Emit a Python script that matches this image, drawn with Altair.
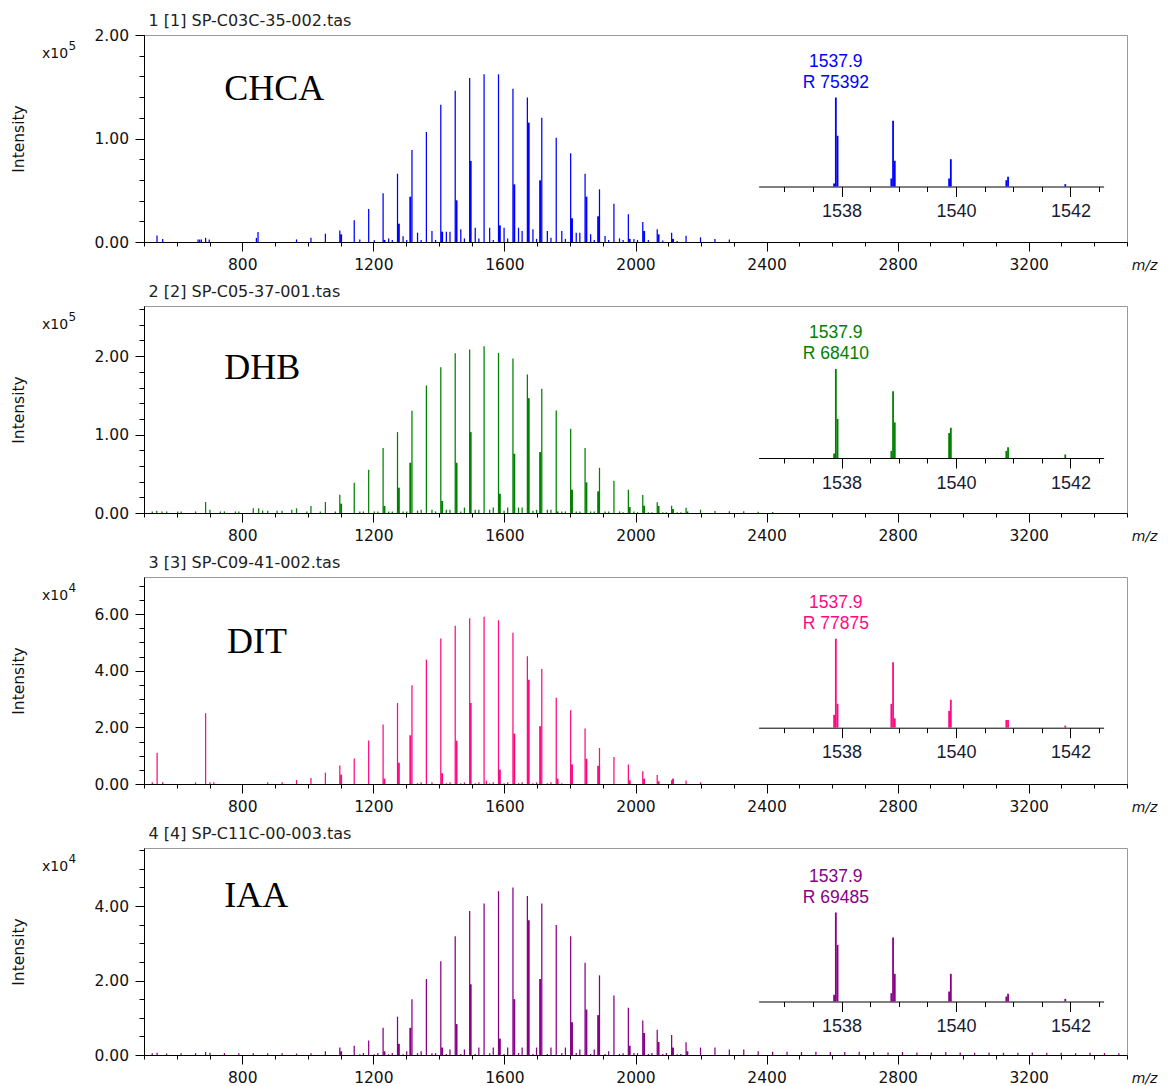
import altair as alt
import pandas as pd

# ---------------- data ----------------
TITLES = ["1 [1] SP-C03C-35-002.tas", "2 [2] SP-C05-37-001.tas",
          "3 [3] SP-C09-41-002.tas", "4 [4] SP-C11C-00-003.tas"]
MATRIX = ["CHCA", "DHB", "DIT", "IAA"]
COLORS = ["#0000ff", "#008000", "#ff0a82", "#880088"]
EXPONENT = ["5", "5", "4", "4"]
YMAX = [2.0, 2.64, 7.31, 5.56]
YTICKS = [
    [0, 0.2, 0.4, 0.6, 0.8, 1.0, 1.2, 1.4, 1.6, 1.8, 2.0],
    [0, 0.2, 0.4, 0.6, 0.8, 1.0, 1.2, 1.4, 1.6, 1.8, 2.0, 2.2, 2.4, 2.6],
    [0, 0.5, 1.0, 1.5, 2.0, 2.5, 3.0, 3.5, 4.0, 4.5, 5.0, 5.5, 6.0, 6.5, 7.0],
    [0, 0.5, 1.0, 1.5, 2.0, 2.5, 3.0, 3.5, 4.0, 4.5, 5.0, 5.5],
]
YMAJOR = [[0, 1, 2], [0, 1, 2], [0, 2, 4, 6], [0, 2, 4]]
XTICKS = [500, 600, 700, 800, 900, 1000, 1100, 1200, 1300, 1400, 1500, 1600, 1700,
          1800, 1900, 2000, 2100, 2200, 2300, 2400, 2500, 2600, 2700, 2800, 2900,
          3000, 3100, 3200, 3300, 3400, 3500]
XMAJOR = [800, 1200, 1600, 2000, 2400, 2800, 3200]
INSET_TICKS = [1537.0, 1537.5, 1538.0, 1538.5, 1539.0, 1539.5, 1540.0, 1540.5,
               1541.0, 1541.5, 1542.0, 1542.5]
INSET_MAJOR = [1538, 1540, 1542]

# label positions (m/z, intensity) of the matrix names
LABEL_MZ = [745, 745, 753, 745]
LABEL_Y = [1.372, 1.703, 4.61, 3.97]

# main polymer series, k = -23 ... 44
SERIES_MZ = [525.2, 569.2, 613.3, 657.3, 701.3, 745.4, 789.4, 833.4, 877.5, 921.5,
             965.5, 1009.5, 1053.6, 1097.6, 1141.6, 1185.7, 1229.7, 1273.7, 1317.8, 1361.8,
             1405.8, 1449.8, 1493.9, 1537.9, 1581.9, 1626.0, 1670.0, 1714.0, 1758.1, 1802.1,
             1846.1, 1890.1, 1934.2, 1978.2, 2022.2, 2066.3, 2110.3, 2154.3, 2198.4, 2242.4,
             2286.4, 2330.4, 2374.5, 2418.5, 2462.5, 2506.6, 2550.6, 2594.6, 2638.7, 2682.7,
             2726.7, 2770.7, 2814.8, 2858.8, 2902.8, 2946.9, 2990.9, 3034.9, 3079.0, 3123.0,
             3167.0, 3211.0, 3255.1, 3299.1, 3343.1, 3387.2, 3431.2, 3475.2]

MAIN_H1 = [0, 0, 0, 0, 0, 0, 0, 0, 0, 0,
           0.025, 0.04, 0.08, 0.11, 0.21, 0.32, 0.47, 0.66, 0.89, 1.063,
           1.327, 1.462, 1.585, 1.62, 1.62, 1.481, 1.395, 1.201, 1.008, 0.857,
           0.66, 0.509, 0.37, 0.267, 0.193, 0.122, 0.09, 0.06, 0.045, 0.03,
           0.025, 0, 0, 0, 0, 0, 0, 0, 0, 0,
           0, 0, 0, 0, 0, 0, 0, 0, 0, 0,
           0, 0, 0, 0, 0, 0, 0, 0]
MAIN_H2 = [0.02, 0.02, 0.02, 0.02, 0.04, 0.02, 0.02, 0.06, 0.03, 0.03,
           0.06, 0.09, 0.14, 0.234, 0.386, 0.552, 0.828, 1.032, 1.304, 1.626,
           1.860, 2.038, 2.085, 2.127, 2.042, 1.970, 1.766, 1.584, 1.308, 1.074,
           0.828, 0.577, 0.412, 0.297, 0.229, 0.136, 0.093, 0.068, 0.042, 0.025,
           0.021, 0.021, 0.015, 0.012, 0, 0, 0, 0, 0, 0,
           0, 0, 0, 0, 0, 0, 0, 0, 0, 0,
           0, 0, 0, 0, 0, 0, 0, 0]
MAIN_H3 = [0.06, 0, 0, 0.06, 0.06, 0, 0, 0, 0.06, 0.06,
           0.14, 0.21, 0.40, 0.65, 0.90, 1.54, 2.10, 2.86, 3.49, 4.39,
           5.14, 5.59, 5.85, 5.91, 5.78, 5.34, 4.51, 4.06, 3.05, 2.60,
           1.96, 1.27, 0.95, 0.69, 0.45, 0.32, 0.13, 0.12, 0.06, 0,
           0, 0, 0, 0, 0, 0, 0, 0, 0, 0,
           0, 0, 0, 0, 0, 0, 0, 0, 0, 0,
           0, 0, 0, 0, 0, 0, 0, 0]
MAIN_H4 = [0.05, 0.04, 0.05, 0.05, 0.06, 0.05, 0.05, 0.05, 0.05, 0.05,
           0.04, 0.045, 0.10, 0.20, 0.25, 0.39, 0.73, 1.03, 1.50, 2.04,
           2.52, 3.19, 3.87, 4.07, 4.40, 4.50, 4.27, 4.07, 3.49, 3.19,
           2.48, 2.14, 1.60, 1.27, 0.93, 0.68, 0.54, 0.34, 0.20, 0.20,
           0.15, 0.15, 0.10, 0.09, 0.09, 0.08, 0.09, 0.08, 0.08, 0.09,
           0.08, 0.07, 0.08, 0.07, 0.07, 0.08, 0.07, 0.06, 0.07, 0.06,
           0.06, 0.07, 0.06, 0.06, 0.05, 0.06, 0.05, 0.05]
MAIN_H = [MAIN_H1, MAIN_H2, MAIN_H3, MAIN_H4]

# satellite peaks next to the main peaks (drawn thicker)
SEC_MZ = [1101.6, 1233.7, 1277.7, 1312.8, 1409.8, 1453.8, 1496.9, 1585.9, 1630.0, 1674.0,
          1709.0, 1762.1, 1806.1, 1850.1, 1886.1, 1982.2, 2026.2, 2070.3, 2114.3, 2158.3]
SEC_H = [
    [0.074, 0.02, 0.177, 0.438, 0.10, 0.403, 0.783, 0.161, 0.557, 1.153,
     0.596, 0.0, 0.229, 0.438, 0.248, 0.03, 0.106, 0.074, 0.03, 0.0],
    [0.119, 0.089, 0.323, 0.641, 0.153, 0.641, 1.032, 0.246, 0.756, 1.465,
     0.777, 0.02, 0.297, 0.391, 0.276, 0.076, 0.093, 0.09, 0.05, 0.02],
    [0.33, 0.19, 0.75, 1.72, 0.38, 1.53, 2.86, 0.51, 1.78, 3.68,
     2.04, 0.19, 0.69, 0.89, 0.64, 0.13, 0.19, 0.10, 0.19, 0.0],
    [0.10, 0.10, 0.30, 0.73, 0.20, 0.83, 1.90, 0.44, 1.50, 3.62,
     2.04, 0.0, 0.88, 1.22, 1.07, 0.25, 0.59, 0.35, 0.20, 0.10],
]

# two minor adduct series
ADD1_MZ = [1158.6, 1202.7, 1246.7, 1290.7, 1334.8, 1378.8, 1422.8, 1466.8, 1510.9, 1554.9,
           1598.9, 1643.0, 1687.0, 1731.0, 1775.1, 1819.1, 1863.1, 1907.1, 1951.2, 1995.2,
           2039.2, 2083.3, 2127.3]
ADD2_MZ = [1169.6, 1213.7, 1257.7, 1301.7, 1345.8, 1389.8, 1433.8, 1477.8, 1521.9, 1565.9,
           1609.9, 1654.0, 1698.0, 1742.0, 1786.1, 1830.1, 1874.1, 1918.1, 1962.2, 2006.2,
           2050.2, 2094.3, 2138.3]
ADD1_H = [
    [0.025, 0.016, 0.035, 0.055, 0.09, 0.106, 0.10, 0.122, 0.138, 0.138, 0.138, 0.138,
     0.122, 0.106, 0.106, 0.09, 0.074, 0.058, 0.035, 0.03, 0.02, 0.015, 0.01],
    [0.02, 0.02, 0.02, 0.02, 0.03, 0.04, 0.04, 0.02, 0.04, 0.04, 0.03, 0.07,
     0.03, 0.04, 0.02, 0.02, 0.02, 0.02, 0.02, 0.02, 0.01, 0.01, 0.01],
    [0, 0, 0, 0, 0.03, 0.06, 0.03, 0.03, 0.03, 0.03, 0.03, 0.03,
     0.03, 0.03, 0.03, 0, 0, 0, 0, 0, 0, 0, 0],
    [0.02, 0.02, 0.02, 0.02, 0.05, 0.05, 0.03, 0.03, 0.03, 0.05, 0.03, 0.054,
     0.03, 0.03, 0.054, 0.054, 0.03, 0.03, 0.03, 0.054, 0.03, 0.03, 0.02],
]
ADD2_H = [
    [0, 0, 0.02, 0.02, 0.02, 0.02, 0.10, 0.035, 0.035, 0.02, 0.035, 0.106,
     0.03, 0.04, 0.03, 0.09, 0.02, 0.02, 0.02, 0.02, 0, 0, 0],
    [0.02, 0.02, 0.02, 0.02, 0.04, 0.02, 0.04, 0.07, 0.04, 0.07, 0.07, 0.07,
     0.04, 0.04, 0.02, 0.02, 0.02, 0.02, 0.01, 0.01, 0.01, 0.01, 0.01],
    [0, 0, 0, 0, 0.06, 0, 0.06, 0.06, 0.06, 0.06, 0.06, 0.06,
     0.06, 0.06, 0, 0, 0, 0, 0, 0, 0, 0, 0],
    [0.054, 0.054, 0.054, 0.10, 0.10, 0.05, 0.15, 0.15, 0.20, 0.20, 0.20, 0.20,
     0.20, 0.20, 0.20, 0.15, 0.15, 0.10, 0.05, 0.05, 0.054, 0.054, 0.03],
]

# isolated low-mass peaks
EXTRA_MZ = [
    [539.7, 557.0, 665.0, 670.0, 675.0, 688.0, 699.0, 843.0, 848.0],
    [539.0, 555.0, 603.0, 688.0, 733.0, 779.0, 850.0, 862.0, 906.0, 951.0, 997.0, 1038.0, 1084.0],
    [540.0, 557.0, 688.0, 713.0, 1545.0],
    [540.0, 688.0],
]
EXTRA_H = [
    [0.064, 0.03, 0.025, 0.025, 0.025, 0.04, 0.025, 0.04, 0.097],
    [0.03, 0.02, 0.02, 0.14, 0.02, 0.02, 0.06, 0.03, 0.03, 0.04, 0.02, 0.02, 0.02],
    [1.10, 0.06, 2.50, 0.06, 0.12],
    [0.06, 0.08],
]

# zoomed isotope cluster (inset), relative intensity
INSET_MZ = [1537.90, 1537.93, 1537.87, 1538.90, 1538.93, 1538.87,
            1539.91, 1539.88, 1540.91, 1540.88, 1541.91]
INSET_REL = [
    [100, 57, 3.4, 73.8, 28.9, 9, 30.7, 9, 10.9, 7.1, 2.6],
    [100, 44, 5, 75, 40, 8, 34, 28, 12, 8, 4],
    [100, 26.8, 14.4, 73.6, 10.5, 26.8, 31.4, 18.9, 8.7, 8.7, 2.3],
    [100, 63.7, 7.5, 71.9, 31.1, 9.3, 31.1, 11.2, 8.7, 5.6, 3.0],
]
INSET_LABEL = [["1537.9", "R 75392"], ["1537.9", "R 68410"],
               ["1537.9", "R 77875"], ["1537.9", "R 69485"]]
INSET_LABEL_MZ = [1537.9, 1537.9]
INSET_LABEL_REL = [134.5, 111.2]

# ---------------- layout constants ----------------
W, H = 983, 207
INSET_OFF = [55.5, 55.0, 56.3, 53.5]
AX_FONT = "DejaVu Sans"
INK = "#111111"


def panel(i):
    color = COLORS[i]

    main_df = pd.DataFrame({
        "mz": SERIES_MZ + ADD1_MZ + ADD2_MZ + EXTRA_MZ[i],
        "h": MAIN_H[i] + ADD1_H[i] + ADD2_H[i] + EXTRA_H[i],
    })
    main_df = main_df[main_df["h"] > 0]
    sec_df = pd.DataFrame({"mz": SEC_MZ, "h": SEC_H[i]})
    sec_df = sec_df[sec_df["h"] > 0]

    xs = alt.Scale(domain=[500, 3500], nice=False, zero=False)
    ys = alt.Scale(domain=[0, YMAX[i]], nice=False, zero=False)

    x_major = alt.Axis(
        orient="bottom", values=XMAJOR, format="d", tickSize=9,
        labelPadding=6, labelFont=AX_FONT, labelFontSize=15.5, labelColor=INK,
        labelFlush=False, labelOverlap=False,
        domainColor="black", tickColor="black", grid=False,
        title="m/z", titleX=1000, titleY=27, titleFont=AX_FONT, titleFontSize=14,
        titleFontStyle="italic", titleFontWeight="normal", titleAlign="center",
        titleBaseline="alphabetic", titleColor=INK,
    )
    x_minor = alt.Axis(orient="bottom", values=XTICKS, tickSize=4, labels=False,
                       domain=False, tickColor="black", grid=False, title=None)
    y_major = alt.Axis(
        orient="left", values=YMAJOR[i], format=".2f", tickSize=9,
        labelPadding=6.5, labelFont=AX_FONT, labelFontSize=15.5, labelColor=INK,
        labelOverlap=False, labelFlush=False,
        domainColor="black", tickColor="black", grid=False,
        title="Intensity", titleX=-125.7, titleY=H / 2, titleAngle=-90,
        titleFont=AX_FONT, titleFontSize=15.5, titleFontWeight="normal",
        titleAlign="center", titleBaseline="middle", titleColor=INK,
    )
    y_minor = alt.Axis(orient="left", values=YTICKS[i], tickSize=5, labels=False,
                       domain=False, tickColor="black", grid=False, title=None)

    rules = alt.Chart(main_df).mark_rule(color=color, strokeWidth=1.25).encode(
        x=alt.X("mz:Q", scale=xs, axis=x_major),
        y=alt.Y("h:Q", scale=ys, axis=y_major),
        y2=alt.datum(0),
    )
    sec = alt.Chart(sec_df).mark_rule(color=color, strokeWidth=2).encode(
        x=alt.X("mz:Q", axis=x_minor),
        y=alt.Y("h:Q", axis=y_minor),
        y2=alt.datum(0),
    )
    label = alt.Chart(pd.DataFrame({"mz": [LABEL_MZ[i]], "h": [LABEL_Y[i]],
                                    "t": [MATRIX[i]]})).mark_text(
        align="left", baseline="alphabetic", font="Liberation Serif",
        fontSize=36, color="black").encode(
        x=alt.X("mz:Q", axis=None), y=alt.Y("h:Q", axis=None), text="t:N")
    title = alt.Chart(pd.DataFrame({"t": [TITLES[i]]})).mark_text(
        align="left", baseline="alphabetic", font=AX_FONT, fontSize=16,
        color="#222222").encode(x=alt.value(4.5), y=alt.value(-9.4), text="t:N")
    x10 = alt.Chart(pd.DataFrame({"t": ["x10"]})).mark_text(
        align="left", baseline="alphabetic", font=AX_FONT, fontSize=14,
        color=INK).encode(x=alt.value(-102), y=alt.value(23), text="t:N")
    expo = alt.Chart(pd.DataFrame({"t": [EXPONENT[i]]})).mark_text(
        align="left", baseline="alphabetic", font=AX_FONT, fontSize=12,
        color=INK).encode(x=alt.value(-75.5), y=alt.value(15), text="t:N")
    main_layer = alt.layer(rules, sec, label, title, x10, expo).resolve_axis(
        x="independent", y="independent")

    off = INSET_OFF[i]
    ixs = alt.Scale(domain=[1536.55, 1542.58], range=[614.6, 959.6], nice=False, zero=False)
    iys = alt.Scale(domain=[0, 100], range=[H - off, H - off - 89], nice=False, zero=False)
    i_major = alt.Axis(
        orient="bottom", offset=-off, values=INSET_MAJOR, format="d", tickSize=10,
        labelPadding=6, labelFont="Liberation Sans", labelFontSize=18,
        labelColor="#1a1a33", labelFlush=False, labelOverlap=False,
        domainColor="black", tickColor="black", grid=False, title=None,
    )
    i_minor = alt.Axis(orient="bottom", offset=-off, values=INSET_TICKS, tickSize=5,
                       labels=False, domain=False, tickColor="black", grid=False,
                       title=None)
    inset_df = pd.DataFrame({"imz": INSET_MZ, "rel": INSET_REL[i]})
    irules = alt.Chart(inset_df).mark_rule(color=color, strokeWidth=1.8).encode(
        x=alt.X("imz:Q", scale=ixs, axis=i_major),
        y=alt.Y("rel:Q", scale=iys, axis=None),
        y2=alt.datum(0),
    )
    itext = alt.Chart(pd.DataFrame({"imz": INSET_LABEL_MZ, "rel": INSET_LABEL_REL,
                                    "t": INSET_LABEL[i]})).mark_text(
        align="center", baseline="alphabetic", font="Liberation Sans",
        fontSize=17.5, color=color).encode(
        x=alt.X("imz:Q", axis=i_minor), y=alt.Y("rel:Q", axis=None), text="t:N")
    inset_layer = alt.layer(irules, itext).resolve_axis(x="independent")

    return alt.layer(main_layer, inset_layer).resolve_scale(
        x="independent", y="independent"
    ).properties(width=W, height=H)


chart = alt.vconcat(*[panel(i) for i in range(4)], spacing=64, bounds="flush").properties(
    padding={"left": 2, "top": 4, "right": 0, "bottom": 0}
).configure_view(stroke="#999999", strokeWidth=1)

chart.save("out.html", embed_options={"renderer": "svg", "actions": False})
